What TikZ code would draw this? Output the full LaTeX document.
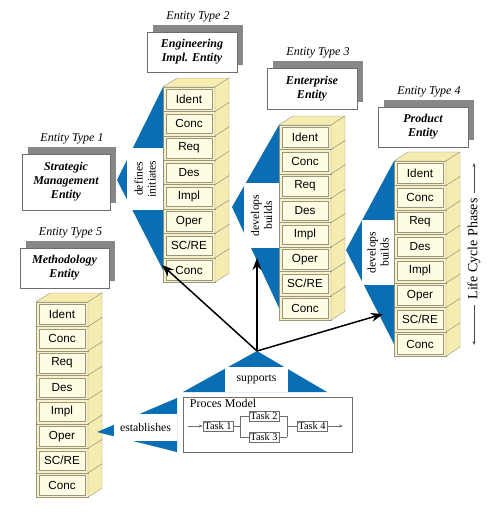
\documentclass[tikz,border=0pt]{standalone}
\usepackage{fontspec}
\setmainfont{Liberation Serif}
\newfontfamily\blockfont{Liberation Sans}
\usetikzlibrary{positioning,calc,shadows,arrows.meta}

\definecolor{flowblue}{RGB}{10,110,180}
\definecolor{phasefront}{RGB}{255,252,228}
\definecolor{phaserim}{RGB}{250,241,196}
\definecolor{phaseside}{RGB}{247,236,176}
\definecolor{phaseline}{RGB}{150,150,130}
\definecolor{shadowgray}{RGB}{135,135,135}
\definecolor{boxline}{RGB}{110,110,110}

\tikzset{
  phase/.style={draw=phaseline, fill=phaserim, minimum width=52pt, minimum height=24.4pt,
    inner sep=0pt, outer sep=0pt, font=\blockfont\fontsize{11.7}{14}\selectfont,
    path picture={\draw[phaseline, fill=phasefront, line width=0.3pt]
      ($(path picture bounding box.south west)+(3pt,2.5pt)$) rectangle
      ($(path picture bounding box.north east)+(-3pt,-2.5pt)$);}},
  phaseface/.style={draw=phaseline, fill=phaseside, line width=0.4pt},
  entity/.style={draw=boxline, fill=white, line width=0.7pt, align=center, inner sep=2pt,
    font=\bfseries\itshape\fontsize{12}{14}\selectfont,
    drop shadow={shadow xshift=6pt, shadow yshift=7pt, fill=shadowgray, opacity=1}},
  etype/.style={font=\itshape\fontsize{12}{14}\selectfont, inner sep=0pt},
  flow/.style={fill=flowblue},
  verb/.style={fill=white, align=center, inner sep=0pt, font=\fontsize{11.7}{13}\selectfont},
  hubarrow/.style={line width=1.5pt, -{Stealth[length=12pt,width=9pt]}},
  task/.style={draw=boxline, inner sep=1.5pt, font=\fontsize{10.3}{12}\selectfont},
  taskline/.style={draw=boxline, line width=0.6pt},
  lcline/.style={draw=black!70, line width=0.5pt, -{Stealth[length=4pt,width=3pt]}}
}

% one column of life cycle phases, drawn from the bottom up
\newcommand{\phasestack}[3]{%
  \foreach \i/\lab in {8/Conc,7/{SC/RE},6/Oper,5/Impl,4/Des,3/Req,2/Conc,1/Ident}{
    \node[phase] (#1-\i) at (#2,#3+\i*24.4-12.2) {\lab};
    \filldraw[phaseface] (#1-\i.north west) -- ++(14pt,9pt) -- ++(52pt,0pt) -- (#1-\i.north east) -- cycle;
    \filldraw[phaseface] (#1-\i.north east) -- ++(14pt,9pt) -- ++(0pt,-24.4pt) -- (#1-\i.south east) -- cycle;
  }}

\begin{document}
\begin{tikzpicture}[x=1pt,y=-1pt]
\useasboundingbox (0,0) rectangle (496,512);

% entities
\node[entity, minimum width=90pt, minimum height=40pt] (engent) at (192,52) {Engineering\\Impl. Entity};
\node[etype, above=9pt of engent, xshift=6pt] (engtype) {Entity Type 2};
\node[entity, minimum width=88pt, minimum height=56pt] (stratent) at (66,182) {Strategic\\Management\\Entity};
\node[etype, above=9pt of stratent, xshift=6pt] (strattype) {Entity Type 1};
\node[entity, minimum width=89pt, minimum height=40pt] (methent) at (64.5,268) {Methodology\\Entity};
\node[etype, above=9pt of methent, xshift=6pt] (methtype) {Entity Type 5};
\node[entity, minimum width=90pt, minimum height=41pt] (entrent) at (312,88.5) {Enterprise\\Entity};
\node[etype, above=9pt of entrent, xshift=6pt] (entrtype) {Entity Type 3};
\node[entity, minimum width=90pt, minimum height=40pt] (prodent) at (423,127) {Product\\Entity};
\node[etype, above=9pt of prodent, xshift=6pt] (prodtype) {Entity Type 4};

% phase stacks
\phasestack{eng}{189}{87}
\phasestack{entr}{305}{125}
\phasestack{prod}{420}{161}
\phasestack{meth}{62}{302}

% relations
\coordinate (defapex) at (117,180);
\coordinate (entrapex) at (232,207);
\coordinate (prodapex) at (346,250);
\fill[flow] (defapex) -- (eng-1.north west) -- (eng-8.west) -- cycle;
\fill[flow] (entrapex) -- (entr-1.north west) -- (entr-8.west) -- cycle;
\fill[flow] (prodapex) -- (prod-1.north west) -- (prod-8.west) -- cycle;
\node[verb, rotate=90, minimum width=62pt, minimum height=36pt] (defines) at (145,179) {defines\\initiates};
\node[verb, rotate=90, minimum width=65pt, minimum height=35pt] (entrdev) at (261.5,215.5) {develops\\builds};
\node[verb, rotate=90, minimum width=65pt, minimum height=32pt] (proddev) at (378,252.5) {develops\\builds};

\coordinate (hub) at (257,351);
\fill[flow] (hub) -- (327,392) -- (183,392) -- cycle;
\node[verb, minimum width=63pt, minimum height=25pt] (supports) at (256.5,379.5) {supports};

\coordinate (estapex) at (97,432);
\fill[flow] (estapex) -- (177,398) -- (177,452) -- cycle;
\node[verb, minimum width=63pt, minimum height=27pt] (establishes) at (145.5,427.5) {establishes};

% process model
\node[draw=boxline, line width=0.7pt, minimum width=169pt, minimum height=55pt] (procbox) at (267.5,424.5) {};
\node[anchor=north west, inner sep=0pt, font=\fontsize{12}{14}\selectfont] (proctitle) at ($(procbox.north west)+(7pt,-2pt)$) {Proces Model};
\node[task] (t1) at (218,426) {Task 1};
\node[task] (t2) at (264,416) {Task 2};
\node[task] (t3) at (264,437) {Task 3};
\node[task] (t4) at (312,426) {Task 4};
\coordinate (pin) at (188,426);
\coordinate (split) at (240,426);
\coordinate (merge) at (287,426);
\coordinate (pout) at (343,426);
\draw[taskline, -{Stealth[length=4pt,width=3pt]}] (pin) -- (t1);
\draw[taskline] (t1) -- (split);
\draw[taskline] (split |- t2) -- (split |- t3);
\draw[taskline] (split |- t2) -- (t2);
\draw[taskline] (split |- t3) -- (t3);
\draw[taskline] (t2) -- (merge |- t2);
\draw[taskline] (t3) -- (merge |- t3);
\draw[taskline] (merge |- t2) -- (merge |- t3);
\draw[taskline] (merge) -- (t4);
\draw[taskline, -{Stealth[length=4pt,width=3pt]}] (t4) -- (pout);

% supports arrows
\coordinate (tipeng) at (162,265);
\coordinate (tipentr) at (257,258);
\coordinate (tipprod) at (383,314);
\draw[hubarrow] (hub) -- (tipeng);
\draw[hubarrow] (hub) -- (tipentr);
\draw[hubarrow] (hub) -- (tipprod);

% life cycle axis
\node[rotate=90, inner sep=5pt, font=\fontsize{14}{16}\selectfont] (lcp) at (474,249) {Life Cycle Phases};
\coordinate (lctop) at (474,163);
\coordinate (lcbot) at (474,345);
\draw[lcline] (lcp.east) -- (lctop);
\draw[lcline] (lcp.west) -- (lcbot);
\end{tikzpicture}
\end{document}
